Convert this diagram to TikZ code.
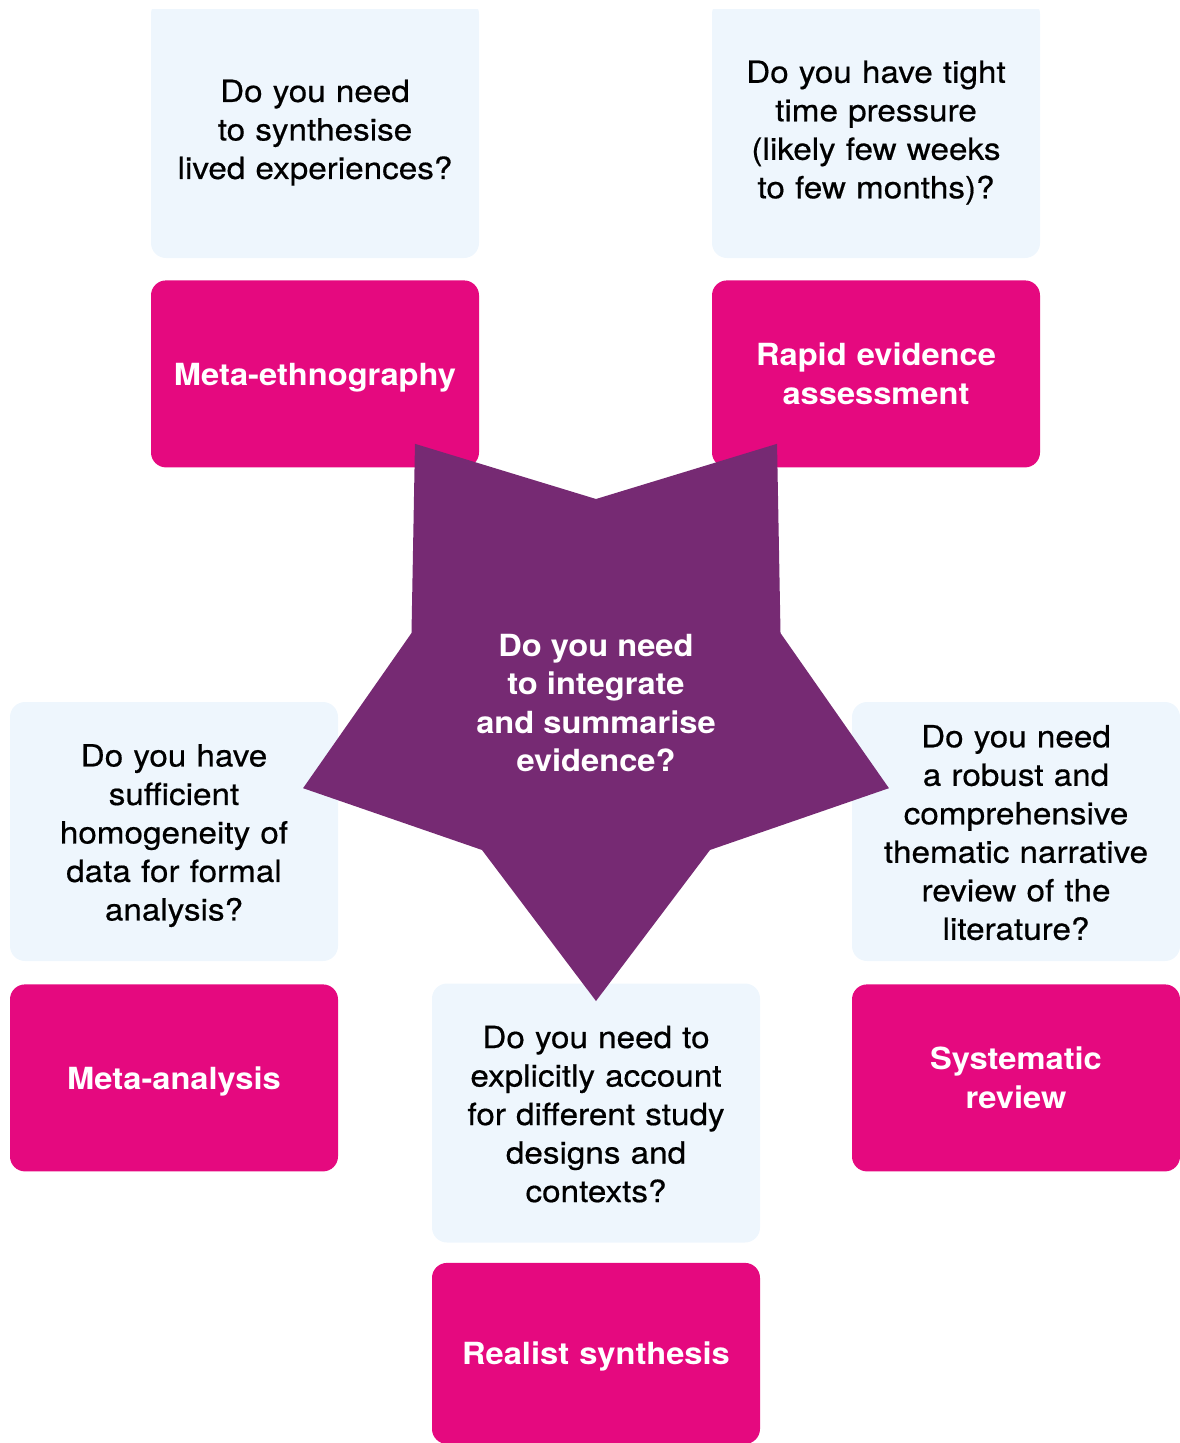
\documentclass[tikz,border=0pt]{standalone}
\usepackage{fontspec}
\setmainfont{TeX Gyre Heros}[FakeStretch=1.07]
\newfontfamily\qfamily{TeX Gyre Heros}[FakeStretch=1.09, FakeBold=0.5]
\usetikzlibrary{positioning}
\definecolor{qblue}{RGB}{238,246,253}
\definecolor{mpink}{RGB}{229,9,127}
\definecolor{spurple}{RGB}{118,42,115}
\newcommand{\qfont}{\qfamily\fontsize{30.5}{38.5}\selectfont}
\newcommand{\mfont}{\fontsize{30.5}{38.5}\selectfont\bfseries}

\begin{document}
\begin{tikzpicture}[x=1pt, y=-1pt,
		question/.style={draw=none, fill=qblue, rounded corners=15pt, minimum width=328pt, minimum height=259pt, inner sep=5pt, text width=310pt, align=center, font=\qfont, execute at begin node={\rule{0pt}{30.5pt}}, execute at end node={\rule[-6.5pt]{0pt}{6.5pt}}},
		method/.style={draw=none, fill=mpink, rounded corners=15pt, minimum width=328pt, minimum height=187pt, inner sep=5pt, text width=310pt, align=center, text=white, font=\mfont, execute at begin node={\rule{0pt}{29pt}}, execute at end node={\rule[-6.5pt]{0pt}{6.5pt}}}]
				\useasboundingbox (0,0) rectangle (1180,1443);
				\begin{scope}
				\clip (0,9) rectangle (1180,1443);
				\node[question] (qlived) at (315,128.5) {Do you need\\to synthesise\\lived experiences?};
				\node[question] (qtime) at (876,128.5) {Do you have tight\\time pressure\\(likely few weeks\\to few months)?};
				\node[question] (qhomog) at (174,831.5) {Do you have\\sufficient\\homogeneity of\\data for formal\\analysis?};
				\node[question] (qrobust) at (1016,831.5) {Do you need\\a robust and\\comprehensive\\thematic narrative\\review of the\\literature?};
				\node[question] (qcontext) at (596,1113) {Do you need to\\explicitly account\\for different study\\designs and\\contexts?};
				\node[method, below=22pt of qlived] (metaeth) {Meta-ethnography};
				\node[method, below=22pt of qtime] (rapid) {Rapid evidence\\assessment};
				\node[method, below=23pt of qhomog] (metaan) {Meta-analysis};
				\node[method, below=23pt of qrobust] (sysrev) {Systematic\\review};
				\node[method, below=20pt of qcontext, minimum height=181pt] (realist) {Realist synthesis};
				\end{scope}
				\coordinate (hub) at (596,693);
				\fill[spurple, shift={(hub)}] (90:308) \foreach \k in {0,...,4} {
					-- (126+72*\k:194) -- (162+72*\k:308)
				} -- cycle;
				\node[text=white, align=center, font=\mfont] (integrate) at (596,703) {Do you need\\to integrate\\and summarise\\evidence?};
			\end{tikzpicture}
\end{document}
